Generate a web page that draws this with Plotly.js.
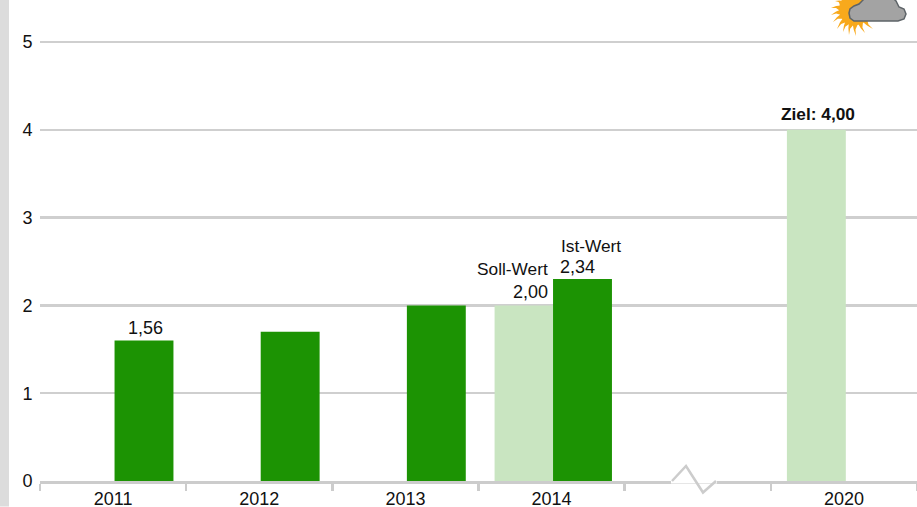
<!DOCTYPE html>
<html><head><meta charset="utf-8">
<script src="https://cdn.plot.ly/plotly-3.0.1.min.js"></script>
<style>html,body{margin:0;padding:0;background:#fff;overflow:hidden}#c{width:917px;height:507px}</style>
</head><body><div id="c"></div>
<script>
var categories = ['2011','2012','2013','2014',' ','2020'];
var sollValues = [null,null,null,2.0,null,4.0];
var istValues = [1.6,1.7,2.0,2.3,null,null];
var yTicks = [0,1,2,3,4,5];
var W=917,H=507,L=40,T=0,B=25.5;
var pw=W-L, ph=H-T-B;
function px(x){return (x-L)/pw;}
function py(y){return 1-(y-T)/ph;}
function path(pts,close){return pts.map(function(p,i){return (i?'L':'M')+px(p[0]).toFixed(5)+','+py(p[1]).toFixed(5);}).join(' ')+(close?' Z':'');}
var shapes=[
 {type:'rect',xref:'paper',yref:'paper',x0:-L/pw,x1:(9-L)/pw,y0:-B/ph,y1:1,fillcolor:'#dcdcdc',line:{width:0},layer:'above'},
 {type:'rect',xref:'paper',yref:'paper',x0:px(671),x1:px(717),y0:py(484),y1:py(478),fillcolor:'#fff',line:{width:0},layer:'above'},
 {type:'path',xref:'paper',yref:'paper',path:path([[672,481.5],[686,466.5],[703,493],[716,481.5]]),line:{color:'#cccccc',width:2.5},layer:'above'}
];
var rays=[[835,1],[831,8],[831,15],[833,22],[837,29],[843,32],[849,35],[856,36],[865,33],[873,29]];
var sc=[855,9];
rays.forEach(function(r){
  var dx=r[0]-sc[0],dy=r[1]-sc[1],l=Math.hypot(dx,dy),nx=-dy/l,ny=dx/l;
  var bx=sc[0]+dx/l*14,by=sc[1]+dy/l*14;
  var mx=(bx+r[0])/2+nx*1.2,my=(by+r[1])/2+ny*1.2;
  shapes.push({type:'path',xref:'paper',yref:'paper',path:path([[bx+nx*3,by+ny*3],[mx+nx*0.9,my+ny*0.9],[r[0],r[1]],[mx-nx*0.9,my-ny*0.9],[bx-nx*3,by-ny*3]],true),fillcolor:'#f8a91c',line:{width:0},layer:'above'});
});
shapes.push({type:'circle',xref:'paper',yref:'paper',x0:px(839),x1:px(871),y0:py(25),y1:py(-7),fillcolor:'#f8a91c',line:{width:0},layer:'above'});
shapes.push({type:'path',xref:'paper',yref:'paper',path:path([[865,-2],[862,1],[859,4],[854,6],[850,9],[849,13],[850,18],[854,21],[898,21],[904,19],[906,14],[904,9],[899,7],[896,1],[893,-2]],true),fillcolor:'#a3a3a3',line:{color:'#5e6468',width:1.5},layer:'above'});
var f={family:'"Liberation Sans",Arial,sans-serif',size:18,color:'#111'};
var fs={family:'"Liberation Sans",Arial,sans-serif',size:17.3,color:'#111'};
function idx(c){return categories.indexOf(c);}
function ann(c,y,t,o){return Object.assign({xref:'x',yref:'y',x:idx(c),y:y,text:t,showarrow:false,font:fs,yanchor:'bottom',xanchor:'left',align:'left'},o||{});}
var annotations=[
 ann('2011',istValues[0],'1,56',{xshift:13,yshift:1,font:{family:fs.family,size:18,color:fs.color}}),
 ann('2014',sollValues[3],'2,00',{xanchor:'right',align:'right',xshift:-2,yshift:1,font:{family:fs.family,size:18,color:fs.color}}),
 ann('2014',sollValues[3],'Soll-Wert',{xanchor:'right',align:'right',xshift:-2,yshift:24}),
 ann('2014',istValues[3],'2,34',{xshift:6,yshift:0,font:{family:fs.family,size:18,color:fs.color}}),
 ann('2014',istValues[3],'Ist-Wert',{xshift:7,yshift:21}),
 ann('2020',sollValues[5],'<b>Ziel: 4,00</b>',{xanchor:'center',xshift:-26,yshift:4})
];
Plotly.newPlot('c',[
 {type:'bar',name:'Soll',x:categories,y:sollValues,width:0.403,offset:-0.39,marker:{color:'#c9e5c1',line:{width:0}},hoverinfo:'skip'},
 {type:'bar',name:'Ist',x:categories,y:istValues,width:0.403,offset:0.01,marker:{color:'#1c9303',line:{width:0}},hoverinfo:'skip'}
],{
 width:W,height:H,showlegend:false,barmode:'group',
 margin:{l:L,r:0,t:T,b:B,pad:0},paper_bgcolor:'#fff',plot_bgcolor:'#fff',
 font:f,
 xaxis:{type:'category',categoryorder:'array',categoryarray:categories,range:[-0.5,5.5],tickson:'boundaries',tickangle:0,ticks:'outside',ticklen:7,tickwidth:2.5,tickcolor:'#cccccc',ticklabelstandoff:0,showline:true,linecolor:'#cccccc',linewidth:2.5,showgrid:false,zeroline:false,tickfont:f,fixedrange:true},
 yaxis:{range:[0,481.5/87.9],tickmode:'array',tickvals:yTicks,ticktext:yTicks.map(String),ticks:'outside',ticklen:3,tickcolor:'rgba(0,0,0,0)',showline:false,showgrid:true,gridcolor:'#cfcfcf',gridwidth:2.5,zeroline:false,tickfont:f,fixedrange:true},
 shapes:shapes,annotations:annotations
},{displayModeBar:false,staticPlot:true});
</script></body></html>
